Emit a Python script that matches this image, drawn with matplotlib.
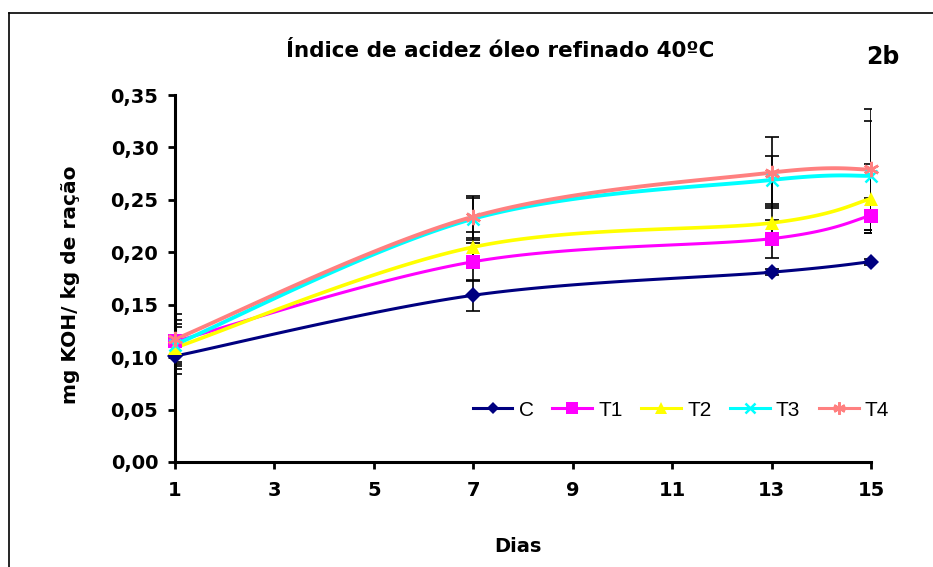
import numpy as np
import matplotlib
matplotlib.use('Agg')
import matplotlib.pyplot as plt
from matplotlib.lines import Line2D

plt.rcParams['font.family'] = ['DejaVu Sans']

# dados
dias = [1, 7, 13, 15]
serie_c = [0.101, 0.159, 0.181, 0.191]
serie_t1 = [0.115, 0.191, 0.213, 0.235]
serie_t2 = [0.109, 0.205, 0.228, 0.251]
serie_t3 = [0.112, 0.232, 0.269, 0.273]
serie_t4 = [0.117, 0.234, 0.276, 0.279]
# desvios (barras de erro)
erro_c = [0.017, 0.015, 0.003, 0.003]
erro_t1 = [0.020, 0.018, 0.018, 0.017]
erro_t2 = [0.020, 0.014, 0.016, 0.033]
erro_t3 = [0.020, 0.020, 0.023, 0.052]
erro_t4 = [0.024, 0.020, 0.034, 0.058]
nomes = ['C', 'T1', 'T2', 'T3', 'T4']

series = [serie_c, serie_t1, serie_t2, serie_t3, serie_t4]
erros = [erro_c, erro_t1, erro_t2, erro_t3, erro_t4]
cores = ['#000080', '#FF00FF', '#FFFF00', '#00FFFF', '#FF8080']
marcadores = ['D', 's', '^', 'x', (6, 2, 0)]
tam = [8, 10, 10, 9, 11]
larg = [2.2, 2.2, 2.6, 2.8, 2.8]

XMIN, XMAX, YMIN, YMAX = 1, 15, 0, 0.35
W_PX, H_PX = 696.0, 367.0  # tamanho do eixo em pixels, para suavizar


def suavizar(x, y, n=40):
    # linha suavizada tipo Excel (bezier com pontos de controle catmull-rom)
    px = (np.array(x, float) - XMIN) / (XMAX - XMIN) * W_PX
    py = (np.array(y, float) - YMIN) / (YMAX - YMIN) * H_PX
    pts = np.column_stack([px, py])
    ext = np.vstack([pts[0], pts, pts[-1]])
    saida = []
    t = np.linspace(0, 1, n)[:, None]
    for i in range(len(pts) - 1):
        p0, p1, p2, p3 = ext[i], ext[i + 1], ext[i + 2], ext[i + 3]
        c1 = p1 + (p2 - p0) / 6.0
        c2 = p2 - (p3 - p1) / 6.0
        seg = ((1 - t) ** 3) * p1 + 3 * ((1 - t) ** 2) * t * c1 + 3 * (1 - t) * t ** 2 * c2 + t ** 3 * p2
        saida.append(seg)
    s = np.vstack(saida)
    return s[:, 0] / W_PX * (XMAX - XMIN) + XMIN, s[:, 1] / H_PX * (YMAX - YMIN) + YMIN


fig = plt.figure(figsize=(9.33, 5.67), dpi=100)
ax = fig.add_axes([175 / 933, 1 - 462 / 567, 696 / 933, 367 / 567])

# barras de erro
for s, e in zip(series, erros):
    ax.errorbar(dias, s, yerr=e, fmt='none', ecolor='black', elinewidth=1.2,
                capsize=5, capthick=1.2, zorder=2)

handles = []
for s, cor, m, ms, lw, nome in zip(series, cores, marcadores, tam, larg, nomes):
    xs, ys = suavizar(dias, s)
    ax.plot(xs, ys, color=cor, lw=lw, zorder=3, solid_capstyle='round')
    mew = 1.8 if m in ('x', (6, 2, 0)) else 0
    ax.plot(dias, s, ls='none', marker=m, ms=ms, color=cor, mec=cor, mew=mew, zorder=4, clip_on=False)
    handles.append(Line2D([], [], color=cor, lw=2.2, marker=m, ms=ms * 0.8, mec=cor, mew=mew))

ax.set_xlim(XMIN, XMAX)
ax.set_ylim(YMIN, YMAX)
ax.set_xticks([1, 3, 5, 7, 9, 11, 13, 15])
yt = np.arange(0, 0.351, 0.05)
ax.set_yticks(yt)
ax.set_yticklabels([('%.2f' % v).replace('.', ',') for v in yt])
for lab in ax.get_xticklabels() + ax.get_yticklabels():
    lab.set_fontweight('bold')
    lab.set_fontsize(14)
ax.tick_params(direction='out', length=5, width=2)
ax.tick_params(axis='x', pad=9)
ax.tick_params(axis='y', pad=7)
ax.spines['top'].set_visible(False)
ax.spines['right'].set_visible(False)
ax.spines['left'].set_linewidth(2.2)
ax.spines['bottom'].set_linewidth(2.2)

fig.text(70 / 933, 1 - 285 / 567, 'mg KOH/ kg de ração', rotation=90, ha='center', va='center',
         fontsize=14.5, fontweight='bold')
fig.text(518 / 933, 1 - 547 / 567, 'Dias', ha='center', va='center', fontsize=14, fontweight='bold')
fig.text(500 / 933, 1 - 51 / 567, 'Índice de acidez óleo refinado 40ºC', ha='center', va='center',
         fontsize=15.5, fontweight='bold')
fig.text(883 / 933, 1 - 57 / 567, '2b', ha='center', va='center', fontsize=17, fontweight='bold')

ax.legend(handles, nomes, loc='center', bbox_to_anchor=(681 / 933, 1 - 410 / 567),
          bbox_transform=fig.transFigure, ncol=5, frameon=False,
          prop={'family': 'Liberation Sans', 'size': 15},
          handlelength=1.9, columnspacing=0.9, handletextpad=0.3)

# moldura externa
fig.add_artist(Line2D([9 / 933, 1], [1 - 13 / 567, 1 - 13 / 567], color='black', lw=1.2))
fig.add_artist(Line2D([9 / 933, 9 / 933], [0, 1 - 13 / 567], color='black', lw=1.2))

plt.savefig('out.png', dpi=100)
